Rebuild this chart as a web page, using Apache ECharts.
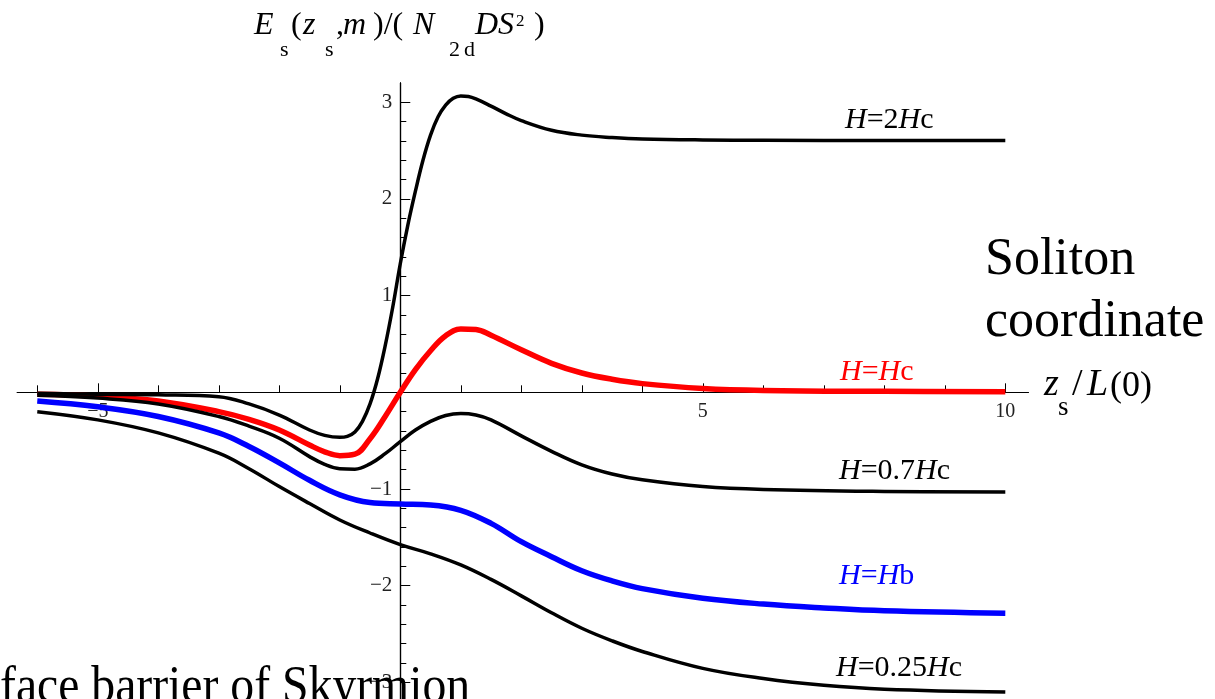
<!DOCTYPE html>
<html><head><meta charset="utf-8">
<script src="https://cdn.jsdelivr.net/npm/echarts@6/dist/echarts.min.js"></script>
<style>html,body{margin:0;padding:0;background:#fff;overflow:hidden}#c{width:1215px;height:699px}</style>
</head><body><div id="c"></div>
<script>
// ---- data ----
const xH2Hc  = [-6, -5, -4, -3, -2.5, -2, -1.5, -1.25, -1, -0.875, -0.75, -0.625, -0.5, -0.375, -0.25, -0.125, 0, 0.125, 0.25, 0.375, 0.5, 0.625, 0.75, 0.875, 1, 1.125, 1.25, 1.5, 1.75, 2, 2.5, 3, 3.5, 4, 5, 6, 8, 10];
const yH2Hc  = [-0.01, -0.02, -0.025, -0.045, -0.12, -0.235, -0.39, -0.445, -0.465, -0.455, -0.41, -0.30, -0.12, 0.14, 0.48, 0.88, 1.33, 1.73, 2.08, 2.40, 2.66, 2.85, 2.97, 3.04, 3.065, 3.06, 3.035, 2.96, 2.88, 2.81, 2.71, 2.66, 2.635, 2.62, 2.61, 2.607, 2.605, 2.605];
const xHc    = [-6, -5, -4, -3, -2.5, -2, -1.5, -1.25, -1, -0.75, -0.5, -0.25, 0, 0.25, 0.5, 0.75, 1, 1.25, 1.5, 2, 2.5, 3, 3.5, 4, 5, 6, 8, 10];
const yHc    = [-0.02, -0.04, -0.09, -0.20, -0.28, -0.39, -0.545, -0.615, -0.655, -0.64, -0.48, -0.25, 0.0, 0.235, 0.43, 0.585, 0.655, 0.65, 0.59, 0.44, 0.30, 0.20, 0.135, 0.09, 0.04, 0.02, 0.01, 0.005];
const x07Hc  = [-6, -5, -4, -3, -2.5, -2, -1.5, -1.25, -1, -0.75, -0.5, -0.25, 0, 0.25, 0.5, 0.75, 1, 1.25, 1.5, 2, 2.5, 3, 3.5, 4, 5, 6, 8, 10];
const y07Hc  = [-0.03, -0.06, -0.12, -0.25, -0.35, -0.475, -0.665, -0.745, -0.79, -0.795, -0.74, -0.635, -0.51, -0.39, -0.30, -0.24, -0.22, -0.235, -0.285, -0.45, -0.61, -0.75, -0.845, -0.905, -0.975, -1.005, -1.025, -1.03];
const xHb    = [-6, -5, -4, -3, -2.5, -2, -1.5, -1, -0.5, 0, 0.5, 1, 1.5, 2, 2.5, 3, 3.5, 4, 5, 6, 7, 8, 10];
const yHb    = [-0.09, -0.15, -0.25, -0.42, -0.56, -0.73, -0.91, -1.06, -1.14, -1.155, -1.165, -1.22, -1.355, -1.545, -1.70, -1.845, -1.95, -2.03, -2.13, -2.19, -2.23, -2.26, -2.285];
const x025Hc = [-6, -5, -4, -3, -2.5, -2, -1.5, -1, -0.5, 0, 0.5, 1, 1.5, 2, 2.5, 3, 3.5, 4, 5, 6, 7, 8, 10];
const y025Hc = [-0.20, -0.285, -0.42, -0.63, -0.79, -0.975, -1.15, -1.32, -1.455, -1.575, -1.67, -1.785, -1.935, -2.105, -2.28, -2.44, -2.57, -2.68, -2.855, -2.96, -3.03, -3.07, -3.10];

const xMajorTicks = [-5, 0, 5, 10];
const xMinorTicks = [-6, -4, -3, -2, -1, 1, 2, 3, 4, 6, 7, 8, 9];
const xTickLabels = [-5, 5, 10];
const yMajorTicks = [-3, -2, -1, 0, 1, 2, 3];
const yTickLabels = [-3, -2, -1, 1, 2, 3];
const yMinorTicks = [-3.2, -2.8, -2.6, -2.4, -2.2, -1.8, -1.6, -1.4, -1.2, -0.8, -0.6, -0.4, -0.2, 0.2, 0.4, 0.6, 0.8, 1.2, 1.4, 1.6, 1.8, 2.2, 2.4, 2.6, 2.8];

const X_MIN = -6.33, X_MAX = 10.38, Y_MIN = -3.3, Y_MAX = 3.2;
const SERIF = '"Liberation Serif", "Times New Roman", serif';

// layout
const W = 1215, H = 699;
const G = { left: 17.3, right: 186.7, top: 82.9, bottom: -12.4 };
const gw = W - G.left - G.right, gh = H - G.top - G.bottom;
const yAxisOffset = -((0 - X_MIN) / (X_MAX - X_MIN)) * gw;   // move y axis from left edge to x = 0
const xAxisOffset = -((0 - Y_MIN) / (Y_MAX - Y_MIN)) * gh;   // move x axis from bottom edge to y = 0

function pairs(xs, ys) { return xs.map((x, i) => [x, ys[i]]); }
function fmt(v) { return v < 0 ? '\u2212' + Math.abs(v) : String(v); }

const chart = echarts.init(document.getElementById('c'), null, { renderer: 'canvas' });
const gridBox = Object.assign({ outerBoundsMode: 'none', containLabel: false }, G);

function xAx(gridIndex, ticks, len, labels) {
  return {
    type: 'value', gridIndex, min: X_MIN, max: X_MAX, position: 'bottom', offset: xAxisOffset,
    axisLine: { show: true, onZero: false, lineStyle: { color: '#000', width: 1.2 } },
    axisTick: { show: true, inside: true, length: len, customValues: ticks, lineStyle: { color: '#000', width: 1 } },
    axisLabel: labels ? { show: true, customValues: labels, formatter: fmt, margin: 9, color: '#222', fontFamily: SERIF, fontSize: 20 } : { show: false },
    splitLine: { show: false }
  };
}
function yAx(gridIndex, ticks, len, labels) {
  return {
    type: 'value', gridIndex, min: Y_MIN, max: Y_MAX, position: 'left', offset: yAxisOffset,
    axisLine: { show: true, onZero: false, lineStyle: { color: '#000', width: 1.2 } },
    axisTick: { show: true, inside: true, length: len, customValues: ticks, lineStyle: { color: '#000', width: 1 } },
    axisLabel: labels ? { show: true, customValues: labels, formatter: fmt, margin: 8, color: '#222', fontFamily: SERIF, fontSize: 21 } : { show: false },
    splitLine: { show: false }
  };
}

function T(text, x, baseline, size, italic, color) {
  return {
    type: 'text', x: x, y: baseline - 0.33 * size, z: 100,
    style: { text: text, fontFamily: SERIF, fontSize: size, fontStyle: italic ? 'italic' : 'normal', fill: color || '#000', align: 'left', verticalAlign: 'middle' }
  };
}
function RT(text, x, baseline, size, color) {
  return {
    type: 'text', x: x, y: baseline - 0.33 * size, z: 100,
    style: { text: text, fontFamily: SERIF, fontSize: size, fill: color || '#000', align: 'left', verticalAlign: 'middle',
      rich: { i: { fontStyle: 'italic', fontFamily: SERIF, fontSize: size, fill: color || '#000' },
              n: { fontFamily: SERIF, fontSize: size, fill: color || '#000' } } }
  };
}

function line(name, xs, ys, color, width, z) {
  return { name, type: 'line', xAxisIndex: 0, yAxisIndex: 0, data: pairs(xs, ys), smooth: 0.4, showSymbol: false, symbol: 'none',
    lineStyle: { color, width, cap: 'butt', join: 'round' }, z, animation: false };
}

const graphics = [
  // y-axis title  E_s(z_s,m)/(N_2d D S^2)
  T('E', 254, 36, 32, true), T('s', 280, 57, 22, false),
  T('(', 291, 36, 32, false), T('z', 303, 36, 32, true), T('s', 325, 57, 22, false),
  T(',', 336, 36, 32, false), T('m', 343, 36, 32, true), T(')/(', 373, 36, 32, false),
  T('N', 413, 36, 32, true), T('2', 449, 57, 22, false), T('d', 464, 57, 22, false),
  T('D', 475, 36, 32, true), T('S', 498, 36, 32, true), T('2', 516, 27, 17, false), T(')', 534, 36, 32, false),
  // x-axis title z_s/L(0)
  T('z', 1044, 398, 38, true), T('s', 1058, 417, 27, false), T('/', 1072, 398, 38, false),
  T('L', 1087, 398, 38, true), T('(0)', 1110, 398, 36, false),
  // curve labels
  RT('{i|H}{n|=2}{i|H}{n|c}', 845, 130, 30, '#000'),
  RT('{i|H}{n|=}{i|H}{n|c}', 840, 382, 30, '#ff0000'),
  RT('{i|H}{n|=0.7}{i|H}{n|c}', 839, 481, 30, '#000'),
  RT('{i|H}{n|=}{i|H}{n|b}', 839, 586, 30, '#0000ff'),
  RT('{i|H}{n|=0.25}{i|H}{n|c}', 836, 678, 30, '#000'),
  // overlay captions
  T('Soliton', 985, 278, 52, false), T('coordinate', 985, 340, 52, false),
  { type: 'text', x: 0, y: 706 - 0.33 * 53, scaleX: 0.9, z: 100,
    style: { text: 'face barrier of Skyrmion', fontFamily: SERIF, fontSize: 53, fill: '#000', align: 'left', verticalAlign: 'middle' } }
];

chart.setOption({
  animation: false,
  backgroundColor: '#fff',
  grid: [Object.assign({}, gridBox), Object.assign({}, gridBox)],
  xAxis: [xAx(0, xMajorTicks, 9, xTickLabels), xAx(1, xMinorTicks, 7, null)],
  yAxis: [yAx(0, yMajorTicks, 10, yTickLabels), yAx(1, yMinorTicks, 6, null)],
  series: [
    line('H=Hc', xHc, yHc, '#ff0000', 5.5, 2),
    line('H=Hb', xHb, yHb, '#0000ff', 5.5, 2),
    line('H=2Hc', xH2Hc, yH2Hc, '#000', 3.5, 3),
    line('H=0.7Hc', x07Hc, y07Hc, '#000', 3.5, 3),
    line('H=0.25Hc', x025Hc, y025Hc, '#000', 3.5, 3)
  ],
  graphic: graphics
});
</script></body></html>
